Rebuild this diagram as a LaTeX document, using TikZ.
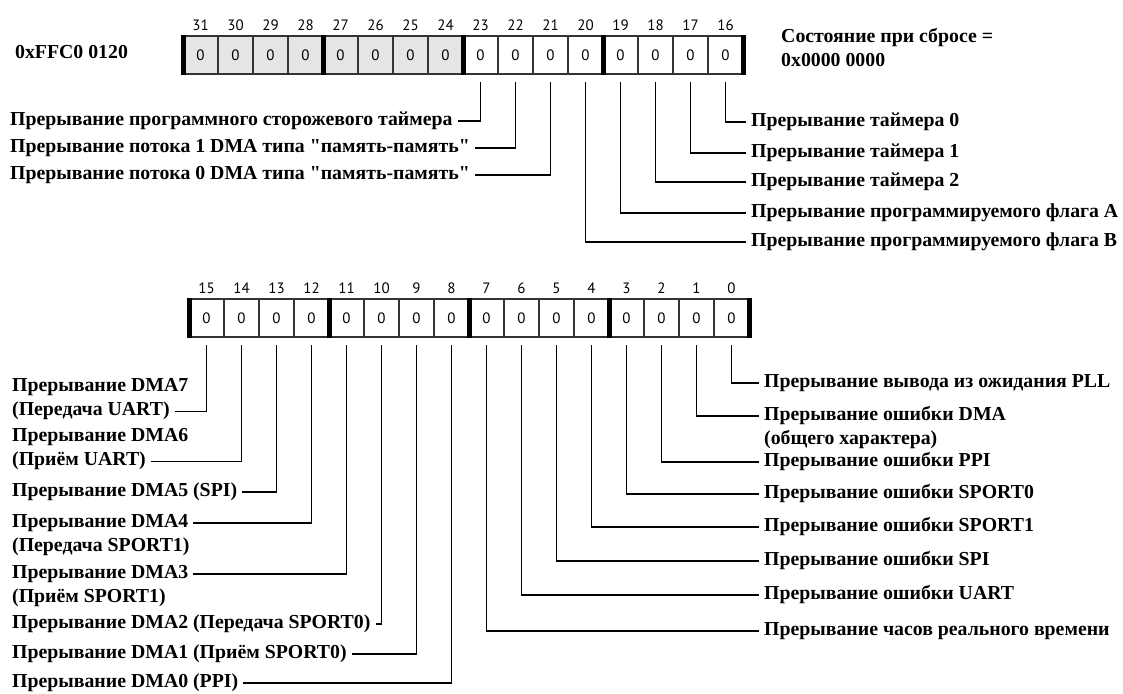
\documentclass[tikz,border=0pt]{standalone}
\usepackage{fontspec}
\setmainfont{Liberation Serif}
\newfontfamily\bitfont{PT Sans}
\usetikzlibrary{positioning}

\newcommand{\irqfont}{\bfseries\fontsize{19.8}{22}\selectfont}
\newcommand{\bitsize}{\bitfont\fontsize{15}{17}\selectfont}

\tikzset{
  cell/.style={draw=black!80, line width=1.3pt, minimum width=35pt, minimum height=38pt,
    inner sep=0pt, outer sep=0pt, font=\bitsize},
  greycell/.style={cell, fill=black!10},
  irq/.style={anchor=west, font=\irqfont, inner xsep=5pt, inner ysep=1pt,
    text height=14pt, text depth=5pt},
  wire/.style={line width=1.5pt, shorten <=8pt},
  bar/.style={line width=5pt, shorten <=-1pt, shorten >=-1pt},
  every label/.style={font=\bitsize, inner sep=1pt},
}

\begin{document}
\begin{tikzpicture}[x=1pt, y=-1pt, label distance=4pt]
\useasboundingbox (0,0) rectangle (1123,693);

% upper half, bits 31..16
\node (c31) [greycell, label=above:31] at (200.5,55) {0};
\node (c30) [greycell, label=above:30, right=0pt of c31] {0};
\node (c29) [greycell, label=above:29, right=0pt of c30] {0};
\node (c28) [greycell, label=above:28, right=0pt of c29] {0};
\node (c27) [greycell, label=above:27, right=0pt of c28] {0};
\node (c26) [greycell, label=above:26, right=0pt of c27] {0};
\node (c25) [greycell, label=above:25, right=0pt of c26] {0};
\node (c24) [greycell, label=above:24, right=0pt of c25] {0};
\node (c23) [cell, label=above:23, right=0pt of c24] {0};
\node (c22) [cell, label=above:22, right=0pt of c23] {0};
\node (c21) [cell, label=above:21, right=0pt of c22] {0};
\node (c20) [cell, label=above:20, right=0pt of c21] {0};
\node (c19) [cell, label=above:19, right=0pt of c20] {0};
\node (c18) [cell, label=above:18, right=0pt of c19] {0};
\node (c17) [cell, label=above:17, right=0pt of c18] {0};
\node (c16) [cell, label=above:16, right=0pt of c17] {0};

\draw[bar] (c31.north west) -- (c31.south west);
\draw[bar] (c27.north west) -- (c27.south west);
\draw[bar] (c23.north west) -- (c23.south west);
\draw[bar] (c19.north west) -- (c19.south west);
\draw[bar] (c16.north east) -- (c16.south east);

\node (addr) [irq] at (10,54) {0xFFC0 0120};
\node (rst1) [irq] at (776,38) {Состояние при сбросе =};
\node (rst2) [irq, below=3pt of rst1.south west, anchor=north west] {0x0000 0000};

\node (t23) [irq] at (5,121) {Прерывание программного сторожевого таймера};
\node (t22) [irq] at (5,148) {Прерывание потока 1 DMA типа \textquotedbl память-память\textquotedbl};
\node (t21) [irq] at (5,175) {Прерывание потока 0 DMA типа \textquotedbl память-память\textquotedbl};

\node (t16) [irq] at (746,122) {Прерывание таймера 0};
\node (t17) [irq] at (746,153) {Прерывание таймера 1};
\node (t18) [irq] at (746,182) {Прерывание таймера 2};
\node (t19) [irq] at (746,213) {Прерывание программируемого флага A};
\node (t20) [irq] at (746,242) {Прерывание программируемого флага B};

\draw[wire] (c23) |- (t23);
\draw[wire] (c22) |- (t22);
\draw[wire] (c21) |- (t21);
\draw[wire] (c16) |- (t16);
\draw[wire] (c17) |- (t17);
\draw[wire] (c18) |- (t18);
\draw[wire] (c19) |- (t19);
\draw[wire] (c20) |- (t20);

% lower half, bits 15..0
\node (c15) [cell, label=above:15] at (206.5,318) {0};
\node (c14) [cell, label=above:14, right=0pt of c15] {0};
\node (c13) [cell, label=above:13, right=0pt of c14] {0};
\node (c12) [cell, label=above:12, right=0pt of c13] {0};
\node (c11) [cell, label=above:11, right=0pt of c12] {0};
\node (c10) [cell, label=above:10, right=0pt of c11] {0};
\node (c9)  [cell, label=above:9,  right=0pt of c10] {0};
\node (c8)  [cell, label=above:8,  right=0pt of c9]  {0};
\node (c7)  [cell, label=above:7,  right=0pt of c8]  {0};
\node (c6)  [cell, label=above:6,  right=0pt of c7]  {0};
\node (c5)  [cell, label=above:5,  right=0pt of c6]  {0};
\node (c4)  [cell, label=above:4,  right=0pt of c5]  {0};
\node (c3)  [cell, label=above:3,  right=0pt of c4]  {0};
\node (c2)  [cell, label=above:2,  right=0pt of c3]  {0};
\node (c1)  [cell, label=above:1,  right=0pt of c2]  {0};
\node (c0)  [cell, label=above:0,  right=0pt of c1]  {0};

\draw[bar] (c15.north west) -- (c15.south west);
\draw[bar] (c11.north west) -- (c11.south west);
\draw[bar] (c7.north west) -- (c7.south west);
\draw[bar] (c3.north west) -- (c3.south west);
\draw[bar] (c0.north east) -- (c0.south east);

\node (t15a) [irq] at (7,387) {Прерывание DMA7};
\node (t15b) [irq, below=3pt of t15a.south west, anchor=north west] {(Передача UART)};
\node (t14a) [irq] at (7,437) {Прерывание DMA6};
\node (t14b) [irq, below=3pt of t14a.south west, anchor=north west] {(Приём UART)};
\node (t13)  [irq] at (7,492) {Прерывание DMA5 (SPI)};
\node (t12a) [irq] at (7,523) {Прерывание DMA4};
\node (t12b) [irq, below=3pt of t12a.south west, anchor=north west] {(Передача SPORT1)};
\node (t11a) [irq] at (7,574) {Прерывание DMA3};
\node (t11b) [irq, below=3pt of t11a.south west, anchor=north west] {(Приём SPORT1)};
\node (t10)  [irq] at (7,624) {Прерывание DMA2 (Передача SPORT0)};
\node (t9)   [irq] at (7,654) {Прерывание DMA1 (Приём SPORT0)};
\node (t8)   [irq] at (7,683) {Прерывание DMA0 (PPI)};

\node (t0)  [irq] at (759,383) {Прерывание вывода из ожидания PLL};
\node (t1a) [irq] at (759,416) {Прерывание ошибки DMA};
\node (t1b) [irq, below=3pt of t1a.south west, anchor=north west] {(общего характера)};
\node (t2)  [irq] at (759,462) {Прерывание ошибки PPI};
\node (t3)  [irq] at (759,494) {Прерывание ошибки SPORT0};
\node (t4)  [irq] at (759,527) {Прерывание ошибки SPORT1};
\node (t5)  [irq] at (759,561) {Прерывание ошибки SPI};
\node (t6)  [irq] at (759,595) {Прерывание ошибки UART};
\node (t7)  [irq] at (759,631) {Прерывание часов реального времени};

\draw[wire] (c15) |- (t15b);
\draw[wire] (c14) |- (t14b);
\draw[wire] (c13) |- (t13);
\draw[wire] (c12) |- (t12a);
\draw[wire] (c11) |- (t11a);
\draw[wire] (c10) |- (t10);
\draw[wire] (c9)  |- (t9);
\draw[wire] (c8)  |- (t8);
\draw[wire] (c0)  |- (t0);
\draw[wire] (c1)  |- (t1a);
\draw[wire] (c2)  |- (t2);
\draw[wire] (c3)  |- (t3);
\draw[wire] (c4)  |- (t4);
\draw[wire] (c5)  |- (t5);
\draw[wire] (c6)  |- (t6);
\draw[wire] (c7)  |- (t7);
\end{tikzpicture}
\end{document}
